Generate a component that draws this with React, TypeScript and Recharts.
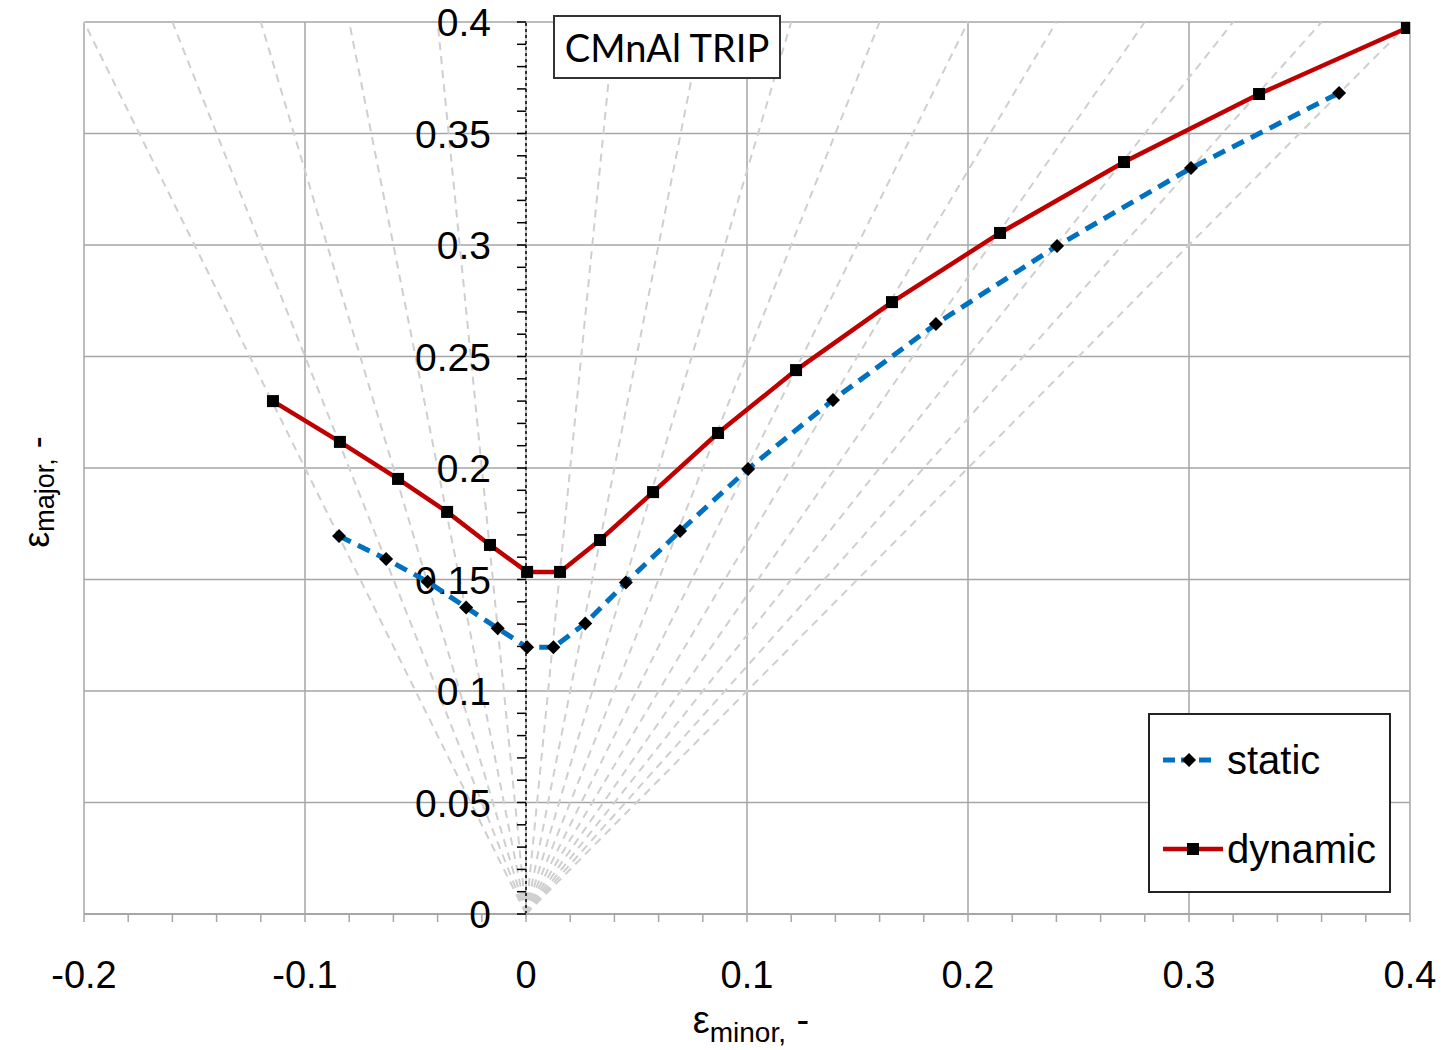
import React from 'react';
import { ScatterChart, Scatter, XAxis, YAxis, ReferenceLine, ReferenceDot, Label, Legend } from 'recharts';

// forming limit points
const staticMinor = [-0.0846, -0.0633, -0.0445, -0.0271, -0.0128, 0.0005, 0.0124, 0.0268, 0.0452, 0.0697, 0.1005, 0.1389, 0.1855, 0.2403, 0.3009, 0.3679];
const staticMajor = [0.1695, 0.1592, 0.149, 0.1375, 0.1281, 0.1196, 0.1196, 0.1303, 0.1486, 0.1717, 0.1996, 0.2305, 0.2646, 0.2996, 0.3345, 0.3682];
const dynamicMinor = [-0.1145, -0.0842, -0.0579, -0.0357, -0.0163, 0.0005, 0.0154, 0.0335, 0.0575, 0.0869, 0.1222, 0.1656, 0.2145, 0.2706, 0.3317, 0.3986];
const dynamicMajor = [0.23, 0.2117, 0.1951, 0.1803, 0.1655, 0.1534, 0.1534, 0.1677, 0.1892, 0.2157, 0.2439, 0.2744, 0.3054, 0.3372, 0.3677, 0.3973];

// strain path ratios (minor / major) drawn as grey rays
const strainRatios = [-0.5, -0.4, -0.3, -0.2, -0.1, 0, 0.1, 0.2, 0.3, 0.4, 0.5, 0.6, 0.7, 0.8, 0.9, 1.0];

const xTicks = [-0.2, -0.1, 0, 0.1, 0.2, 0.3, 0.4];
const yTicks = [0, 0.05, 0.1, 0.15, 0.2, 0.25, 0.3, 0.35, 0.4];
const yTickLabels = ['0', '0.05', '0.1', '0.15', '0.2', '0.25', '0.3', '0.35', '0.4'];

const X_MIN = -0.2, X_MAX = 0.4, Y_MIN = 0, Y_MAX = 0.4;
const xMinorTicks = Array.from({ length: 31 }, (_, i) => Math.round((X_MIN + i * 0.02) * 100) / 100);
const yMinorTicks = Array.from({ length: 41 }, (_, i) => Math.round(i) / 100);

const staticData = staticMinor.map((x, i) => ({ x, y: staticMajor[i] }));
const dynamicData = dynamicMinor.map((x, i) => ({ x, y: dynamicMajor[i] }));

const GRID = '#a6a6a6';
const FONT = '"Liberation Sans", Arial, sans-serif';

const Diamond = (p: any) => {
  const { cx, cy } = p;
  const r = 7;
  return <path d={`M${cx},${cy - r}L${cx + r},${cy}L${cx},${cy + r}L${cx - r},${cy}Z`} fill="#000" />;
};

const Square = (p: any) => {
  const { cx, cy } = p;
  return <rect x={cx - 6} y={cy - 6} width={12} height={12} fill="#000" />;
};

const XTick = (p: any) => {
  const { x, y, payload } = p;
  const v = payload.value;
  const i = xTicks.findIndex((t) => Math.abs(t - v) < 1e-9);
  if (i < 0) return <g />;
  return (
    <text x={x} y={y + 64} textAnchor="middle" fontSize={38} fontFamily={FONT} fill="#000">
      {String(xTicks[i])}
    </text>
  );
};

const LegendBox = () => (
  <div style={{ width: 243, height: 180, border: '2px solid #222', background: '#fff', boxSizing: 'border-box' }}>
    <svg width={239} height={176} style={{ display: 'block' }}>
      <line x1={13} y1={45} x2={66} y2={45} stroke="#0070C0" strokeWidth={5} strokeDasharray="12 6" />
      <path d="M39,38L46,45L39,52L32,45Z" fill="#000" />
      <text x={77} y={59} fontSize={40} fontFamily={FONT} fill="#000">static</text>
      <line x1={13} y1={134} x2={73} y2={134} stroke="#C00000" strokeWidth={4.5} />
      <rect x={37} y={128} width={12} height={12} fill="#000" />
      <text x={77} y={148} fontSize={40} fontFamily={FONT} fill="#000">dynamic</text>
    </svg>
  </div>
);

export default function App() {
  return (
    <div style={{ position: 'absolute', left: 0, top: 0, width: 1447, height: 1050, background: '#fff' }}>
      <ScatterChart width={1447} height={1050} margin={{ top: 22, right: 37, left: 0, bottom: 0 }}>
        <XAxis
          type="number"
          dataKey="x"
          domain={[X_MIN, X_MAX]}
          allowDataOverflow
          ticks={xMinorTicks}
          interval={0}
          tickSize={8}
          tickLine={{ stroke: GRID, strokeWidth: 1.5 }}
          axisLine={{ stroke: GRID, strokeWidth: 2 }}
          tick={<XTick />}
          height={136}
        >
          <Label
            content={(props: any) => {
              const vb = props.viewBox;
              const cx = vb.x + vb.width / 2 + 4;
              return (
                <text x={cx} y={1033} textAnchor="middle" fontFamily={FONT} fill="#000" fontSize={38}>
                  ε<tspan fontSize={28} dy={9}>minor,</tspan>
                  <tspan dy={-9}> -</tspan>
                </text>
              );
            }}
          />
        </XAxis>
        <YAxis
          type="number"
          dataKey="y"
          domain={[Y_MIN, Y_MAX]}
          allowDataOverflow
          width={84}
          tick={false}
          tickLine={false}
          axisLine={false}
        >
          <Label
            content={() => (
              <text
                x={36}
                y={492}
                transform="rotate(-90, 36, 492)"
                textAnchor="middle"
                dominantBaseline="central"
                fontFamily={FONT}
                fill="#000"
                fontSize={36}
              >
                ε<tspan fontSize={27} dy={9}>major,</tspan>
                <tspan dy={-9}> -</tspan>
              </text>
            )}
          />
        </YAxis>

        {xTicks.map((v) => (
          <ReferenceLine key={`gx${v}`} x={v} stroke={GRID} strokeWidth={1.5} />
        ))}
        {yTicks.filter((v) => v > 0).map((v) => (
          <ReferenceLine key={`gy${v}`} y={v} stroke={GRID} strokeWidth={1.5} />
        ))}

        {strainRatios.map((b) => (
          <ReferenceLine
            key={`ray${b}`}
            segment={[{ x: 0, y: 0 }, { x: b * Y_MAX, y: Y_MAX }]}
            stroke="#cfcfcf"
            strokeWidth={2}
            strokeDasharray="8 6"
            ifOverflow="visible"
          />
        ))}

        <ReferenceLine x={0} stroke="#000" strokeWidth={1.5} strokeDasharray="3 3" />
        {yMinorTicks.map((v) => (
          <ReferenceDot
            key={`yt${v}`}
            x={0}
            y={v}
            r={0}
            ifOverflow="visible"
            shape={(p: any) => <line x1={p.cx - 9} y1={p.cy} x2={p.cx} y2={p.cy} stroke="#000" strokeWidth={1.5} />}
          />
        ))}
        {yTicks.map((v, i) => (
          <ReferenceDot
            key={`yl${v}`}
            x={0}
            y={v}
            r={0}
            ifOverflow="visible"
            shape={(p: any) => (
              <text x={p.cx - 35} y={p.cy + 14} textAnchor="end" fontSize={39} fontFamily={FONT} fill="#000">
                {yTickLabels[i]}
              </text>
            )}
          />
        ))}

        <Scatter
          name="static"
          data={staticData}
          line={{ stroke: '#0070C0', strokeWidth: 5, strokeDasharray: '13 8' }}
          lineType="joint"
          shape={<Diamond />}
          isAnimationActive={false}
        />
        <Scatter
          name="dynamic"
          data={dynamicData}
          line={{ stroke: '#C00000', strokeWidth: 4.5 }}
          lineType="joint"
          shape={<Square />}
          isAnimationActive={false}
        />
        <Legend
          layout="vertical"
          verticalAlign="middle"
          align="center"
          content={<LegendBox />}
          wrapperStyle={{ left: 1148, top: 713, width: 243, height: 180 }}
        />
      </ScatterChart>
      <div
        style={{
          position: 'absolute',
          left: 553,
          top: 15,
          width: 228,
          height: 64,
          border: '2px solid #333',
          background: '#fff',
          boxSizing: 'border-box',
          fontFamily: 'Lato, "Noto Sans", sans-serif',
          fontSize: 38,
          lineHeight: '60px',
          textAlign: 'center',
          color: '#000',
        }}
      >
        CMnAl TRIP
      </div>
    </div>
  );
}
